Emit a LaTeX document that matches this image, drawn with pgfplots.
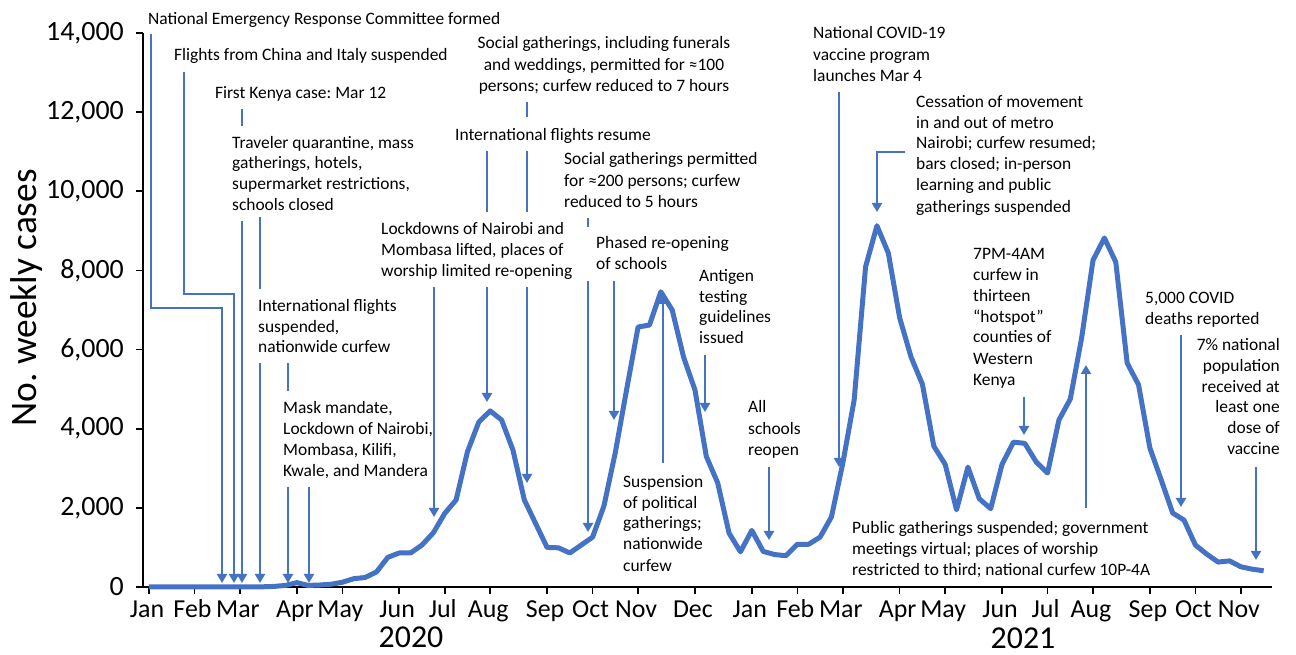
\documentclass[border=0pt]{standalone}
\usepackage{pgfplots}
\pgfplotsset{compat=1.18}
\usepackage{pgfplotstable}
\usepackage{fontspec}
\setmainfont{Carlito}
\usetikzlibrary{arrows.meta}
\definecolor{cblue}{HTML}{4472C4}
\frenchspacing

\pgfplotstableread{
w v
0 0
1 0
2 0
3 0
4 0
5 0
6 0
7 0
8 0
9 0
10 5
11 15
12 40
13 110
14 40
15 50
16 70
17 120
18 210
19 240
20 380
21 750
22 860
23 860
24 1060
25 1370
26 1860
27 2200
28 3420
29 4170
30 4450
31 4220
32 3460
33 2200
34 1600
35 1000
36 990
37 860
38 1060
39 1260
40 2050
41 3400
42 5000
43 6570
44 6620
45 7460
46 7000
47 5810
48 4980
49 3300
50 2630
51 1360
52 890
53 1430
54 900
55 820
56 790
57 1080
58 1080
59 1260
60 1770
61 3130
62 4730
63 8090
64 9130
65 8440
66 6800
67 5810
68 5120
69 3560
70 3100
71 1950
72 3030
73 2230
74 1980
75 3100
76 3660
77 3630
78 3160
79 2880
80 4220
81 4750
82 6300
83 8260
84 8820
85 8210
86 5660
87 5110
88 3510
89 2700
90 1870
91 1690
92 1060
93 830
94 630
95 660
96 510
97 450
98 410
}\datatable

\newcommand\annfont{\fontsize{17.5}{20.5}\selectfont}
\newcommand\TL[3]{\node[anchor=base west,inner sep=0,font=\annfont] at (#1,#2) {#3};}
\newcommand\TC[3]{\node[anchor=base,inner sep=0,font=\annfont] at (#1,#2) {#3};}
\newcommand\TR[3]{\node[anchor=base east,inner sep=0,font=\annfont] at (#1,#2) {#3};}

\begin{document}
\begin{tikzpicture}
\useasboundingbox (0,0) rectangle (1296bp,655bp);
\begin{scope}[x=1bp,y=-1bp,shift={(0bp,655bp)}]
\tikzset{ar/.style={cblue,line width=2.5bp,-{Triangle[width=10bp,length=9bp]}},
         ln/.style={cblue,line width=2.5bp}}
% texts
\TL{148}{25}{National Emergency Response Committee formed}
\TL{174}{61}{Flights from China and Italy suspended}
\TL{215}{99}{First Kenya case: Mar 12}
\TL{232}{149}{Traveler quarantine, mass}
\TL{232}{169}{gatherings, hotels,}
\TL{232}{190}{supermarket restrictions,}
\TL{232}{211}{schools closed}
\TL{258}{312}{International flights}
\TL{258}{333}{suspended,}
\TL{258}{353}{nationwide curfew}
\TL{283}{414}{Mask mandate,}
\TL{283}{435}{Lockdown of Nairobi,}
\TL{283}{456}{Mombasa, Kilifi,}
\TL{283}{477}{Kwale, and Mandera}
\TL{381}{235}{Lockdowns of Nairobi and}
\TL{381}{256}{Mombasa lifted, places of}
\TL{381}{277}{worship limited re-opening}
\TL{455}{141}{International flights resume}
\TC{604}{49}{Social gatherings, including funerals}
\TC{604}{71}{and weddings, permitted for ≈100}
\TC{604}{92}{persons; curfew reduced to 7 hours}
\TL{564}{165}{Social gatherings permitted}
\TL{564}{187}{for ≈200 persons; curfew}
\TL{564}{208}{reduced to 5 hours}
\TL{596}{249}{Phased re-opening}
\TL{596}{270}{of schools}
\TL{699}{282}{Antigen}
\TL{699}{303}{testing}
\TL{699}{323}{guidelines}
\TL{699}{344}{issued}
\TL{623}{488}{Suspension}
\TL{623}{509}{of political}
\TL{623}{529}{gatherings;}
\TL{623}{550}{nationwide}
\TL{623}{572}{curfew}
\TL{748}{413}{All}
\TL{748}{435}{schools}
\TL{748}{456}{reopen}
\TL{813}{39}{National COVID-19}
\TL{813}{61}{vaccine program}
\TL{813}{82}{launches Mar 4}
\TL{916}{108}{Cessation of movement}
\TL{916}{129}{in and out of metro}
\TL{916}{149}{Nairobi; curfew resumed;}
\TL{916}{170}{bars closed; in-person}
\TL{916}{191}{learning and public}
\TL{916}{213}{gatherings suspended}
\TL{973}{260}{7PM-4AM}
\TL{973}{281}{curfew in}
\TL{973}{302}{thirteen}
\TL{973}{323}{“hotspot”}
\TL{973}{343}{counties of}
\TL{973}{365}{Western}
\TL{973}{386}{Kenya}
\TL{852}{534}{Public gatherings suspended; government}
\TL{852}{555}{meetings virtual; places of worship}
\TL{852}{576}{restricted to third; national curfew 10P-4A}
\TL{1145}{304}{5,000 COVID}
\TL{1145}{325}{deaths reported}
\TR{1280}{351}{7\% national}
\TR{1280}{372}{population}
\TR{1280}{393}{received at}
\TR{1280}{413}{least one}
\TR{1280}{434}{dose of}
\TR{1280}{455}{vaccine}
% arrows
\draw[ar] (151,34)--(151,308)--(222,308)--(222,583);
\draw[ar] (184,72)--(184,294)--(234,294)--(234,583);
\draw[ln] (242,109)--(242,126); \draw[ar] (242,221)--(242,583);
\draw[ln] (260,217)--(260,289); \draw[ar] (260,363)--(260,583);
\draw[ln] (288,363)--(288,391); \draw[ar] (288,487)--(288,583);
\draw[ar] (309,487)--(309,583);
\draw[ar] (434,287)--(434,517);
\draw[ln] (487,151)--(487,212); \draw[ar] (487,287)--(487,402);
\draw[ln] (527,102)--(527,117); \draw[ln] (527,151)--(527,212); \draw[ar] (527,287)--(527,483);
\draw[ln] (588,218)--(588,227); \draw[ar] (588,281)--(588,532);
\draw[ar] (614,281)--(614,420);
\draw[ar] (705,355)--(705,412);
\draw[ar] (663,463)--(663,295);
\draw[ar] (769,467)--(769,540);
\draw[ar] (839,92)--(839,467);
\draw[ar] (905,152)--(877,152)--(877,212);
\draw[ar] (1024,397)--(1024,435);
\draw[ar] (1086,508)--(1086,365);
\draw[ar] (1181,335)--(1181,507);
\draw[ar] (1256,467)--(1256,560);
% axis titles
\node[anchor=base,inner sep=0,rotate=90,font=\fontsize{37.5}{37.5}\selectfont] at (36,298) {No. weekly cases};
\node[anchor=base,inner sep=0,font=\fontsize{32}{32}\selectfont] at (411,648) {2020};
\node[anchor=base,inner sep=0,font=\fontsize{32}{32}\selectfont] at (1023,649) {2021};
\end{scope}
\begin{axis}[
  at={(143bp,68bp)}, anchor=south west,
  scale only axis, width=1129bp, height=554bp,
  xmin=-0.527, xmax=98.73, ymin=0, ymax=14000,
  axis x line*=bottom, axis y line*=left,
  axis line style={line width=1.6bp, black},
  clip=false,
  xtick={0,4,8,13,17,22,26,30,35,39,43,48,53,57,61,66,70,75,79,83,88,92,96},
  xticklabels={Jan,Feb,Mar,Apr,May,Jun,Jul,Aug,Sep,Oct,Nov,Dec,Jan,Feb,Mar,Apr,May,Jun,Jul,Aug,Sep,Oct,Nov},
  ytick={0,2000,4000,6000,8000,10000,12000,14000},
  tick align=outside, major tick length=7bp,
  tick style={line width=1.6bp, black},
  xticklabel style={font=\fontsize{26}{26}\selectfont, anchor=base, inner sep=0pt, yshift=-24bp, xshift=-2bp},
  yticklabel style={font=\fontsize{28}{28}\selectfont, anchor=east, inner sep=0pt, xshift=-12bp},
  scaled y ticks=false,
  /pgf/number format/1000 sep={,},
  /pgf/number format/assume math mode=true,
]
\addplot[cblue, line width=5bp, line join=round, no marks] table[x=w,y=v]{\datatable};
\end{axis}
\end{tikzpicture}
\end{document}
